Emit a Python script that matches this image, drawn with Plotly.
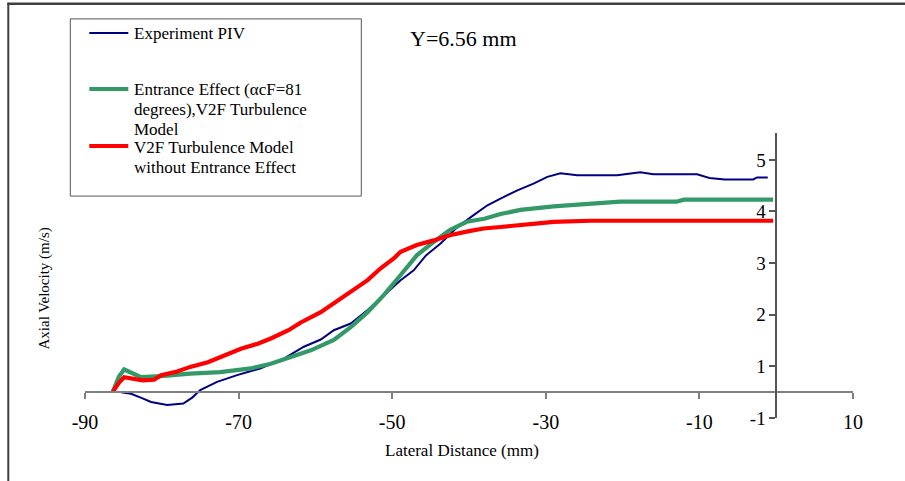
import plotly.graph_objects as go

# ---------------- data ----------------
piv_x = [-85.3, -84.0, -82.5, -81.4, -79.3, -77.2, -76.0, -75.0, -72.8, -70.2, -67.2, -64.1,
         -61.5, -59.3, -57.6, -55.4, -53.2, -51.1, -48.9, -47.2, -45.6, -43.7, -41.5, -39.4,
         -37.6, -35.9, -33.7, -31.6, -29.8, -28.1, -26.4, -25.9, -20.7, -19.0, -17.7, -16.0,
         -15.0, -10.3, -8.7, -6.7, -3.0, -2.5, -1.1]
piv_y = [0.50, 0.47, 0.38, 0.31, 0.25, 0.28, 0.40, 0.54, 0.70, 0.83, 0.96, 1.15,
         1.38, 1.52, 1.70, 1.83, 2.09, 2.38, 2.67, 2.86, 3.15, 3.38, 3.70, 3.93,
         4.12, 4.25, 4.41, 4.54, 4.67, 4.74, 4.72, 4.70, 4.70, 4.74, 4.76, 4.72,
         4.72, 4.72, 4.65, 4.62, 4.62, 4.66, 4.66]

ent_x = [-86.4, -85.6, -84.9, -84.0, -82.7, -80.1, -76.3, -72.4, -68.4, -65.8, -63.2, -61.9,
         -60.6, -57.6, -55.4, -53.2, -51.1, -48.9, -46.8, -44.6, -42.5, -40.3, -38.0, -35.9,
         -33.3, -29.0, -24.2, -20.3, -13.0, -12.0, -0.4]
ent_y = [0.50, 0.80, 0.94, 0.88, 0.79, 0.81, 0.86, 0.89, 0.96, 1.05, 1.18, 1.26,
         1.31, 1.51, 1.76, 2.05, 2.38, 2.77, 3.15, 3.41, 3.64, 3.80, 3.86, 3.95,
         4.03, 4.10, 4.15, 4.19, 4.19, 4.23, 4.23]

v2f_x = [-86.4, -85.6, -84.9, -84.0, -82.5, -81.0, -80.1, -78.0, -76.3, -74.0, -72.4, -69.7,
         -67.5, -65.8, -63.5, -61.9, -59.3, -57.6, -55.5, -53.2, -51.5, -49.8, -48.9, -46.8,
         -44.6, -42.5, -40.0, -38.1, -35.9, -33.3, -31.0, -29.0, -24.2, -15.0, -8.0, -0.4]
v2f_y = [0.50, 0.68, 0.79, 0.76, 0.73, 0.74, 0.83, 0.90, 0.99, 1.08, 1.18, 1.34,
         1.44, 1.54, 1.70, 1.85, 2.05, 2.22, 2.45, 2.67, 2.90, 3.09, 3.22, 3.35,
         3.44, 3.54, 3.62, 3.67, 3.70, 3.73, 3.77, 3.80, 3.82, 3.82, 3.82, 3.82]

x_ticks = [-90, -70, -50, -30, -10, 10]
x_tick_text = ["-90", "-70", "-50", "-30", "-10", "10"]
y_ticks = [0, 1, 2, 3, 4, 5]
y_tick_text = ["-1", "1", "2", "3", "4", "5"]

legend_lines = [
    ["Experiment PIV"],
    ["Entrance Effect (\u03b1cF=81", "degrees),V2F Turbulence", "Model"],
    ["V2F Turbulence Model", "without Entrance Effect"],
]
colors = ["#000080", "#339966", "#FF0000"]
widths = [2, 4.2, 4.2]

# ---------------- layout geometry ----------------
OFF = 0  # page body margin removed via post_script
W, H = 905, 481
SX0, SX1 = 84.7, 852.7   # screen x of plot-area left/right
SY0, SY1 = 133.0, 417.7  # screen y of plot-area top/bottom
L, T = SX0 - OFF, SY0 - OFF
R, B = W - (SX1 - OFF), H - (SY1 - OFF)
PW, PH = SX1 - SX0, SY1 - SY0
Y_RANGE = [0, 5.52]
X_CROSS = 0.5  # y value at which x-axis line is drawn

def px(xs):
    return (xs - SX0) / PW

def py(ys):
    return (SY1 - ys) / PH

FONT = "Liberation Serif"

fig = go.Figure()
for xs, ys, c, w in zip([piv_x, ent_x, v2f_x], [piv_y, ent_y, v2f_y], colors, widths):
    fig.add_trace(go.Scatter(x=xs, y=ys, mode="lines", line=dict(color=c, width=w),
                             showlegend=False, hoverinfo="skip"))

shapes = []
annotations = []

# outer frame (top and left edges)
shapes.append(dict(type="line", xref="paper", yref="paper", x0=px(7), x1=px(905), y0=py(4), y1=py(4),
                   line=dict(color="#404040", width=2.5)))
shapes.append(dict(type="line", xref="paper", yref="paper", x0=px(8), x1=px(8), y0=py(3), y1=py(481),
                   line=dict(color="#404040", width=2)))

# legend box
shapes.append(dict(type="rect", xref="paper", yref="paper", x0=px(70), x1=px(361), y0=py(19), y1=py(196),
                   line=dict(color="#555555", width=1), fillcolor="rgba(0,0,0,0)"))
legend_sample_y = [33, 89, 146]
line_step = 20
for lines, c, yy in zip(legend_lines, colors, legend_sample_y):
    shapes.append(dict(type="line", xref="paper", yref="paper", x0=px(89), x1=px(128), y0=py(yy), y1=py(yy),
                       line=dict(color=c, width=2 if c == "#000080" else 4)))
    for i, t in enumerate(lines):
        annotations.append(dict(text=t, xref="paper", yref="paper", x=px(132), y=py(yy + 1 + i * line_step),
                                xanchor="left", yanchor="middle", showarrow=False,
                                font=dict(family=FONT, size=17, color="black")))

# title-like annotation
annotations.append(dict(text="Y=6.56 mm", xref="paper", yref="paper", x=px(463), y=py(39),
                        xanchor="center", yanchor="middle", showarrow=False,
                        font=dict(family=FONT, size=22, color="black")))
# axis titles
annotations.append(dict(text="Lateral Distance (mm)", xref="paper", yref="paper", x=px(462), y=py(450),
                        xanchor="center", yanchor="middle", showarrow=False,
                        font=dict(family=FONT, size=17, color="black")))
annotations.append(dict(text="Axial Velocity (m/s)", xref="paper", yref="paper", x=px(44), y=py(288),
                        xanchor="center", yanchor="middle", showarrow=False, textangle=-90,
                        font=dict(family=FONT, size=15, color="black")))

fig.update_layout(
    width=W, height=H,
    margin=dict(l=L, r=R, t=T, b=B, pad=0),
    paper_bgcolor="white", plot_bgcolor="white",
    showlegend=False,
    shapes=shapes, annotations=annotations,
    xaxis=dict(range=[-90, 10], tickvals=x_ticks, ticktext=x_tick_text,
               anchor="free", position=X_CROSS / Y_RANGE[1],
               showline=True, linecolor="#808080", linewidth=1.5,
               ticks="outside", ticklen=6, tickcolor="#808080", tickwidth=1.5,
               showgrid=False, zeroline=False,
               tickfont=dict(family=FONT, size=20, color="black"), ticklabelstandoff=6),
    yaxis=dict(range=Y_RANGE, tickvals=y_ticks, ticktext=y_tick_text,
               anchor="free", position=0.9, side="left",
               showline=True, linecolor="#555555", linewidth=1.5,
               ticks="outside", ticklen=6, tickcolor="#555555", tickwidth=1.5,
               showgrid=False, zeroline=False,
               tickfont=dict(family=FONT, size=19, color="black")),
)

fig.write_html("out.html", config={"displayModeBar": False},
               post_script="document.body.style.margin='0';document.body.style.padding='0';")
